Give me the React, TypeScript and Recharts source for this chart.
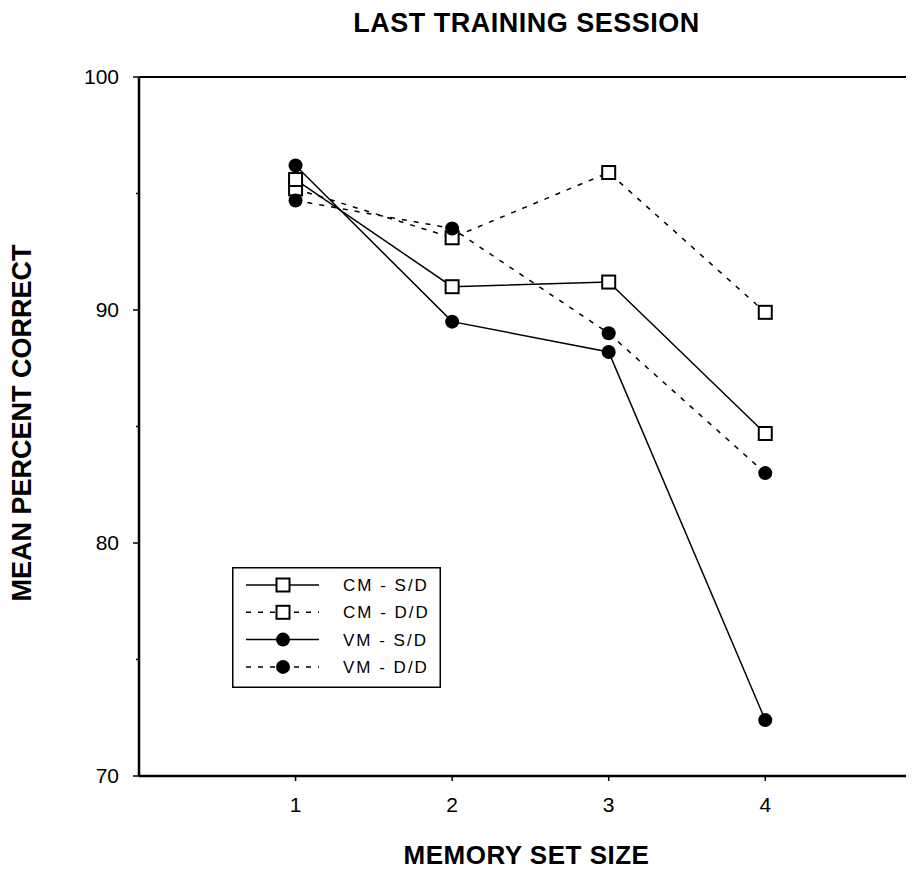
import { LineChart, Line, XAxis, YAxis, ReferenceLine } from "recharts";

const setSizes = [1, 2, 3, 4];
const cmSD = [95.6, 91.0, 91.2, 84.7];
const cmDD = [95.2, 93.1, 95.9, 89.9];
const vmSD = [96.2, 89.5, 88.2, 72.4];
const vmDD = [94.7, 93.5, 89.0, 83.0];

const xTicks = [1, 2, 3, 4];
const yTicks = [70, 75, 80, 85, 90, 95, 100];

const legendItems = [
  { name: "CM - S/D", dashed: false, filled: false },
  { name: "CM - D/D", dashed: true, filled: false },
  { name: "VM - S/D", dashed: false, filled: true },
  { name: "VM - D/D", dashed: true, filled: true },
];

const data = setSizes.map((s, i) => ({
  size: s,
  cmSD: cmSD[i],
  cmDD: cmDD[i],
  vmSD: vmSD[i],
  vmDD: vmDD[i],
}));

const W = 906;
const H = 865;
const AXIS_X = 131;
const AXIS_Y = 768;
const FONT = "'Liberation Sans', Arial, sans-serif";
const DASH = "5 7";

function SquareDot(props: any) {
  const { cx, cy, index } = props;
  if (cx == null || cy == null) return <g key={`s-${index}`} />;
  return (
    <rect key={`s-${index}`} x={cx - 6.5} y={cy - 6.5} width={13} height={13} fill="#fff" stroke="#000" strokeWidth={2} />
  );
}

function CircleDot(props: any) {
  const { cx, cy, index } = props;
  if (cx == null || cy == null) return <g key={`c-${index}`} />;
  return <circle key={`c-${index}`} cx={cx} cy={cy} r={7} fill="#000" />;
}

function YTick(props: any) {
  const { y, payload } = props;
  const v = payload.value;
  const major = v % 10 === 0;
  return (
    <g>
      <line x1={AXIS_X - (major ? 6 : 3)} x2={AXIS_X} y1={y} y2={y} stroke="#000" strokeWidth={1.5} />
      {major && (
        <text x={AXIS_X - 20} y={y} dy="0.35em" textAnchor="end" fontSize={21} fontFamily={FONT} fill="#000">
          {v}
        </text>
      )}
    </g>
  );
}

function XTick(props: any) {
  const { x, payload } = props;
  return (
    <g>
      <line x1={x} x2={x} y1={AXIS_Y} y2={AXIS_Y + 5} stroke="#000" strokeWidth={1.5} />
      <text x={x} y={AXIS_Y + 29} dy="0.35em" textAnchor="middle" fontSize={21} fontFamily={FONT} fill="#000">
        {payload.value}
      </text>
    </g>
  );
}

function LegendBox() {
  return (
    <svg width={209} height={121} style={{ position: "absolute", left: 224, top: 559 }}>
      <rect x={0.75} y={0.75} width={207.5} height={119.5} fill="#fff" stroke="#000" strokeWidth={1.5} />
      {legendItems.map((it, i) => {
        const y = 18 + i * 27.3;
        return (
          <g key={it.name}>
            <line x1={14} x2={87} y1={y} y2={y} stroke="#000" strokeWidth={1.5} strokeDasharray={it.dashed ? DASH : undefined} />
            {it.filled ? (
              <circle cx={51} cy={y} r={7} fill="#000" />
            ) : (
              <rect x={44.5} y={y - 6.5} width={13} height={13} fill="#fff" stroke="#000" strokeWidth={2} />
            )}
            <text x={111} y={y} dy="0.35em" fontSize={17} letterSpacing={2} fontFamily={FONT} fill="#000">
              {it.name}
            </text>
          </g>
        );
      })}
    </svg>
  );
}

export default function App() {
  return (
    <div style={{ position: "relative", width: W, height: H, fontFamily: FONT }}>
      <LineChart width={W} height={H} data={data} margin={{ top: 69, right: 0, left: 0, bottom: 0 }}>
        <XAxis
          type="number"
          dataKey="size"
          domain={[0, 4.95]}
          ticks={xTicks}
          height={H - AXIS_Y - 69 + 69}
          axisLine={{ stroke: "#000", strokeWidth: 2.5 }}
          tickLine={false}
          tick={<XTick />}
          allowDataOverflow
        />
        <YAxis
          type="number"
          domain={[70, 100]}
          ticks={yTicks}
          width={AXIS_X}
          axisLine={{ stroke: "#000", strokeWidth: 2.5 }}
          tickLine={false}
          tick={<YTick />}
          interval={0}
        />
        <ReferenceLine y={100} stroke="#000" strokeWidth={2} />
        <Line dataKey="cmDD" stroke="#000" strokeWidth={1.5} strokeDasharray={DASH} dot={SquareDot} isAnimationActive={false} />
        <Line dataKey="vmDD" stroke="#000" strokeWidth={1.5} strokeDasharray={DASH} dot={CircleDot} isAnimationActive={false} />
        <Line dataKey="vmSD" stroke="#000" strokeWidth={1.5} dot={CircleDot} isAnimationActive={false} />
        <Line dataKey="cmSD" stroke="#000" strokeWidth={1.5} dot={SquareDot} isAnimationActive={false} />
      </LineChart>
      <div
        style={{
          position: "absolute",
          left: 131,
          width: 775,
          top: 2,
          textAlign: "center",
          fontSize: 27,
          lineHeight: "27px",
          fontWeight: "bold",
          letterSpacing: 0.5,
        }}
      >
        LAST TRAINING SESSION
      </div>
      <div
        style={{
          position: "absolute",
          left: 131,
          width: 775,
          top: 834,
          textAlign: "center",
          fontSize: 26,
          lineHeight: "26px",
          fontWeight: "bold",
          letterSpacing: 0.5,
        }}
      >
        MEMORY SET SIZE
      </div>
      <div
        style={{
          position: "absolute",
          left: 14 - 200,
          top: 415 - 14,
          width: 400,
          textAlign: "center",
          fontSize: 27,
          lineHeight: "28px",
          fontWeight: "bold",
          transform: "rotate(-90deg)",
          transformOrigin: "200px 14px",
        }}
      >
        MEAN PERCENT CORRECT
      </div>
      <LegendBox />
    </div>
  );
}
